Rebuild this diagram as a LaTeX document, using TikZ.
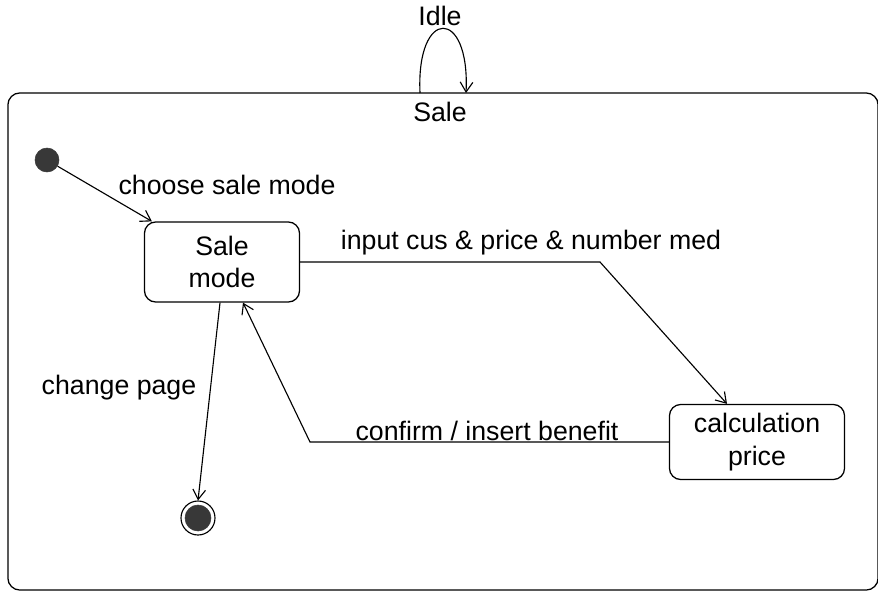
\documentclass[tikz,border=0pt]{standalone}
\usepackage{fontspec}
\setmainfont{Liberation Sans}
\usepackage{tikz}
\usetikzlibrary{arrows.meta,shapes.geometric,calc}
\definecolor{dotgray}{rgb}{0.22,0.22,0.22}

\begin{document}
\begin{tikzpicture}[
    x=0.025cm, y=-0.025cm,
    every node/.style={font=\fontsize{19}{23}\selectfont},
    statebox/.style={draw, line width=0.9pt, rounded corners=0.28cm, align=center,
                     inner sep=0pt},
    initdot/.style={circle, fill=dotgray, draw=dotgray, minimum size=0.6cm, inner sep=0pt},
    finalring/.style={circle, draw, line width=0.8pt, minimum size=0.85cm, inner sep=0pt},
    arr/.style={-{Straight Barb[length=7pt,width=9pt]}, line width=0.8pt},
]
    \useasboundingbox (0,0) rectangle (878,592);

    % Composite state "Sale"
    \node[statebox, rounded corners=0.3cm, minimum width=21.75cm, minimum height=12.425cm]
        (sale) at (443,341.5) {};
    \node (saletitle) at (440,112) {Sale};

    % Self transition "Idle"
    \node (idle) at (440,16) {Idle};
    \coordinate (loopa) at (420,93);
    \coordinate (loopb) at (466,93);
    \draw[arr] (loopa) .. controls (416,7) and (470,7) .. (loopb);

    % States
    \node[initdot]   (init)  at (47,160) {};
    \node[statebox, minimum width=3.875cm, minimum height=2cm]
        (sm)   at (222,262) {Sale\\mode};
    \node[statebox, minimum width=4.375cm, minimum height=1.875cm]
        (calc) at (757,442) {calculation\\price};
    \node[finalring] (final) at (198,518) {};
    \node[initdot, minimum size=0.65cm] (finaldot) at (final) {};

    % Bend points
    \coordinate (b1) at (600,262);
    \coordinate (b2) at (310,442);

    % Transitions
    \draw[arr] (init) -- ([xshift=0.2cm]sm.north west);
    \draw[arr] (sm.east) -- (b1) -- ([xshift=-0.75cm]calc.north);
    \draw[arr] (calc.west) -- (b2) -- ([xshift=0.525cm]sm.south);
    \draw[arr] ([xshift=-0.05cm]sm.south) -- (final.north);

    % Labels
    \node (l1) at (227,185) {choose sale mode};
    \node (l2) at (531,243) {input cus \& price \& number med};
    \node (l3) at (487,431) {confirm / insert benefit};
    \node (l4) at (119,388) {change page};

\end{tikzpicture}
\end{document}
